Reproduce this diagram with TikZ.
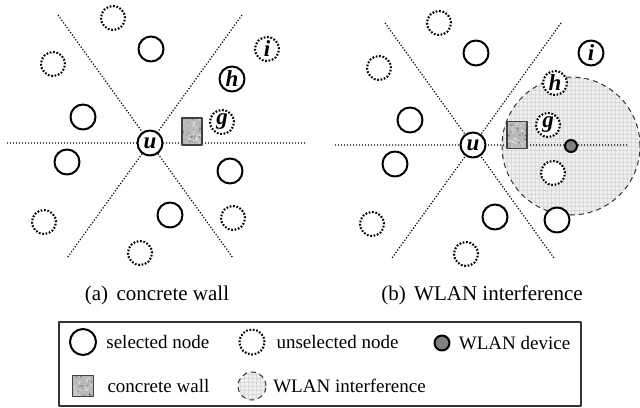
\documentclass[tikz,border=0pt]{standalone}
\usepackage{fontspec}
\setmainfont{Liberation Serif}
\usetikzlibrary{positioning}

\newcommand{\lbl}{\fontsize{11.5}{11.5}\selectfont\bfseries\itshape}
\newcommand{\legfont}{\fontsize{9.5}{11}\selectfont}
\newcommand{\capfont}{\fontsize{10.5}{12}\selectfont}

\tikzset{
  sector/.style={line width=0.6pt, dash pattern=on 0.6pt off 0.9pt},
  selnode/.style={circle, draw, line width=1pt, fill=white, minimum size=12.5pt, inner sep=0pt, font=\lbl},
  unselnode/.style={circle, draw, line width=1.05pt, dash pattern=on 0.85pt off 0.85pt, fill=white, minimum size=12pt, inner sep=0pt, font=\lbl},
  wallbox/.style={rectangle, draw=black!75, line width=0.6pt, fill=gray!55, minimum width=10pt, minimum height=13.5pt, inner sep=0pt,
    path picture={
      \foreach \k in {1,...,30}
        \fill[white, opacity=0.35] ([shift={(rand*9,rand*13)}]path picture bounding box.center) circle (1.3);
      \foreach \k in {1,...,20}
        \fill[black, opacity=0.25] ([shift={(rand*9,rand*13)}]path picture bounding box.center) circle (1);
    }},
  device/.style={circle, draw, line width=1pt, fill=black!50, minimum size=6pt, inner sep=0pt},
  zone/.style={circle, draw=black!80, line width=0.5pt, dash pattern=on 2.5pt off 2pt, fill=gray!12, minimum size=69pt, inner sep=0pt,
    path picture={
      \draw[gray!30, line width=0.2pt, solid, step=2pt] (path picture bounding box.south west) grid (path picture bounding box.north east);
    }},
  legtext/.style={inner sep=0pt, anchor=west, font=\legfont},
  caption/.style={font=\capfont}
}

\begin{document}
\begin{tikzpicture}[line join=round,x=0.5pt,y=-0.5pt]
\pgfmathsetseed{11}
\useasboundingbox (0,0) rectangle (640,407);

% (a) concrete wall
\coordinate (aW) at (7,143);   \coordinate (aE) at (305,143);
\coordinate (aNW) at (58,15);  \coordinate (aSE) at (233,258);
\coordinate (aNE) at (242,15); \coordinate (aSW) at (67,258);
\draw[sector] (aW) -- (aE) (aNW) -- (aSE) (aNE) -- (aSW);
\foreach \x/\y [count=\i] in {151/49,83/117,67/162,230/171,170/215}
\node[selnode] (as\i) at (\x,\y) {};
\foreach \x/\y [count=\i] in {113/18,53/64,233/218,44/222,140/253}
\node[unselnode] (an\i) at (\x,\y) {};
\node[selnode] (ah) at (232,79) {h};
\node[unselnode] (ai) at (267,49) {i};
\node[unselnode] (ag) at (222,122) {g};
\node[wallbox] (awall) at (192,131.5) {};
\node[selnode] (au) at (150,143) {u};
\node[caption] (capa) at (157,295) {(a)\hspace{0.4em}concrete wall};

% (b) WLAN interference
\node[zone] (bzone) at (571,146) {};
\coordinate (bW) at (335,145);  \coordinate (bE) at (628,145);
\coordinate (bNW) at (385,23);  \coordinate (bSE) at (554,258);
\coordinate (bNE) at (561,23);  \coordinate (bSW) at (392,258);
\draw[sector] (bW) -- (bE) (bNW) -- (bSE) (bNE) -- (bSW);
\foreach \x/\y [count=\i] in {476/53,410/120,395/164,495/217,557/220}
\node[selnode] (bs\i) at (\x,\y) {};
\foreach \x/\y [count=\i] in {439/23,379/68,553/173,372/224,466/254}
\node[unselnode] (bn\i) at (\x,\y) {};
\node[selnode] (bi) at (591,53) {i};
\node[unselnode] (bh) at (555,83) {h};
\node[unselnode] (bg) at (548,125) {g};
\node[wallbox] (bwall) at (517,135) {};
\node[device] (bdev) at (bzone.center) {};
\node[selnode] (bu) at (473,145) {u};
\node[caption] (capb) at (482,295) {(b)\hspace{0.4em}WLAN interference};

% legend
\draw[line width=0.6pt, draw=black!80] (59,322) rectangle (581,406);
\node[selnode, minimum size=13pt] (lsel) at (83,342) {};
\node[legtext, right=4.5pt of lsel] (tsel) {selected node};
\node[unselnode, minimum size=12.5pt] (lunsel) at (252,342) {};
\node[legtext, right=5.3pt of lunsel] (tunsel) {unselected node};
\node[device, minimum size=7.5pt] (ldev) at (442,343) {};
\node[legtext, right=4pt of ldev] (tdev) {WLAN device};
\node[wallbox, minimum width=10.5pt, minimum height=10.5pt] (lwall) at (83,386) {};
\node[legtext, right=6.5pt of lwall] (twall) {concrete wall};
\node[zone, minimum size=14pt] (lzone) at (252,386) {};
\node[legtext, right=3.2pt of lzone] (tzone) {WLAN interference};
\end{tikzpicture}
\end{document}
